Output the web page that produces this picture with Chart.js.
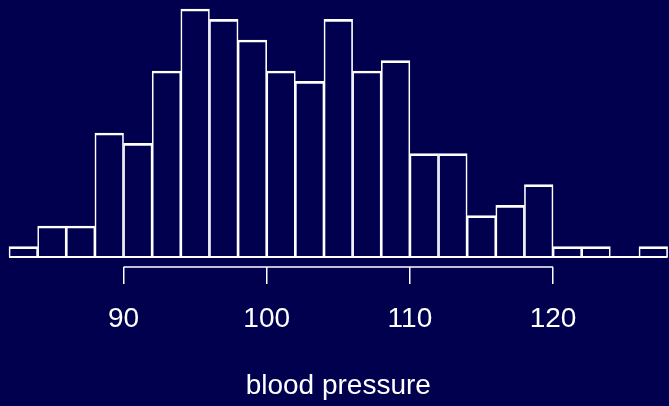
<!DOCTYPE html>
<html>
<head>
<meta charset="utf-8">
<script src="https://cdn.jsdelivr.net/npm/chart.js@4/dist/chart.umd.min.js"></script>
<style>
  html, body { margin: 0; padding: 0; background: #00004f; }
  #wrap { width: 669px; height: 406px; }
</style>
</head>
<body>
<div id="wrap"><canvas id="c" width="669" height="406"></canvas></div>
<script>
// Histogram bins (width 2) from 82 to 128
const binStarts = [82, 84, 86, 88, 90, 92, 94, 96, 98, 100, 102, 104, 106, 108, 110, 112, 114, 116, 118, 120, 122, 124, 126];
const counts    = [1, 3, 3, 12, 11, 18, 24, 23, 21, 18, 17, 23, 18, 19, 10, 10, 4, 5, 7, 1, 1, 0, 1];
const tickValues = [90, 100, 110, 120];
const xLabel = 'blood pressure';
const binWidth = 2;

const BG = '#00004f';
const FG = '#ffffff';

const bgPlugin = {
  id: 'bg',
  beforeDraw(chart) {
    const ctx = chart.ctx;
    ctx.save();
    ctx.fillStyle = BG;
    ctx.fillRect(0, 0, chart.width, chart.height);
    ctx.restore();
  }
};

const axisPlugin = {
  id: 'rAxis',
  afterDatasetsDraw(chart) {
    const ctx = chart.ctx;
    const xs = chart.scales.x, ys = chart.scales.y;
    ctx.save();
    ctx.strokeStyle = FG;
    // histogram baseline
    ctx.lineWidth = 2;
    const y0 = ys.getPixelForValue(0);
    ctx.beginPath();
    ctx.moveTo(xs.getPixelForValue(binStarts[0]), y0);
    ctx.lineTo(xs.getPixelForValue(binStarts[binStarts.length - 1] + binWidth), y0);
    ctx.stroke();
    // axis line spanning first to last tick
    ctx.lineWidth = 1.5;
    const ya = chart.chartArea.bottom;
    ctx.beginPath();
    ctx.moveTo(xs.getPixelForValue(tickValues[0]), ya);
    ctx.lineTo(xs.getPixelForValue(tickValues[tickValues.length - 1]), ya);
    ctx.stroke();
    ctx.restore();
  }
};

new Chart(document.getElementById('c'), {
  type: 'bar',
  data: {
    datasets: [{
      data: binStarts.map((s, i) => ({ x: s + binWidth / 2, y: counts[i] })),
      backgroundColor: 'rgba(0,0,0,0)',
      borderColor: FG,
      borderWidth: { top: 2, left: 1, right: 1, bottom: 0 },
      borderSkipped: false,
      barPercentage: 1,
      categoryPercentage: 1,
      clip: false
    }]
  },
  options: {
    responsive: false,
    animation: false,
    events: [],
    layout: { padding: { left: 9, right: 1.4, top: 9, bottom: 0 } },
    plugins: { legend: { display: false }, tooltip: { enabled: false } },
    scales: {
      x: {
        type: 'linear',
        min: 82,
        max: 128,
        offset: false,
        border: { display: false },
        grid: { display: true, offset: false, drawOnChartArea: false, drawTicks: true, tickLength: 17, color: FG, lineWidth: 1.5 },
        ticks: { color: FG, padding: 18, maxRotation: 0, font: { family: "'Liberation Sans', Arial, sans-serif", size: 28 } },
        afterBuildTicks(scale) { scale.ticks = tickValues.map(v => ({ value: v })); },
        afterFit(scale) { scale.height = 139; },
        title: { display: true, text: xLabel, color: FG, padding: { top: 0, bottom: 3 }, font: { family: "'Liberation Sans', Arial, sans-serif", size: 28 } }
      },
      y: {
        display: false,
        min: -0.968,
        max: 24
      }
    }
  },
  plugins: [bgPlugin, axisPlugin]
});
</script>
</body>
</html>
